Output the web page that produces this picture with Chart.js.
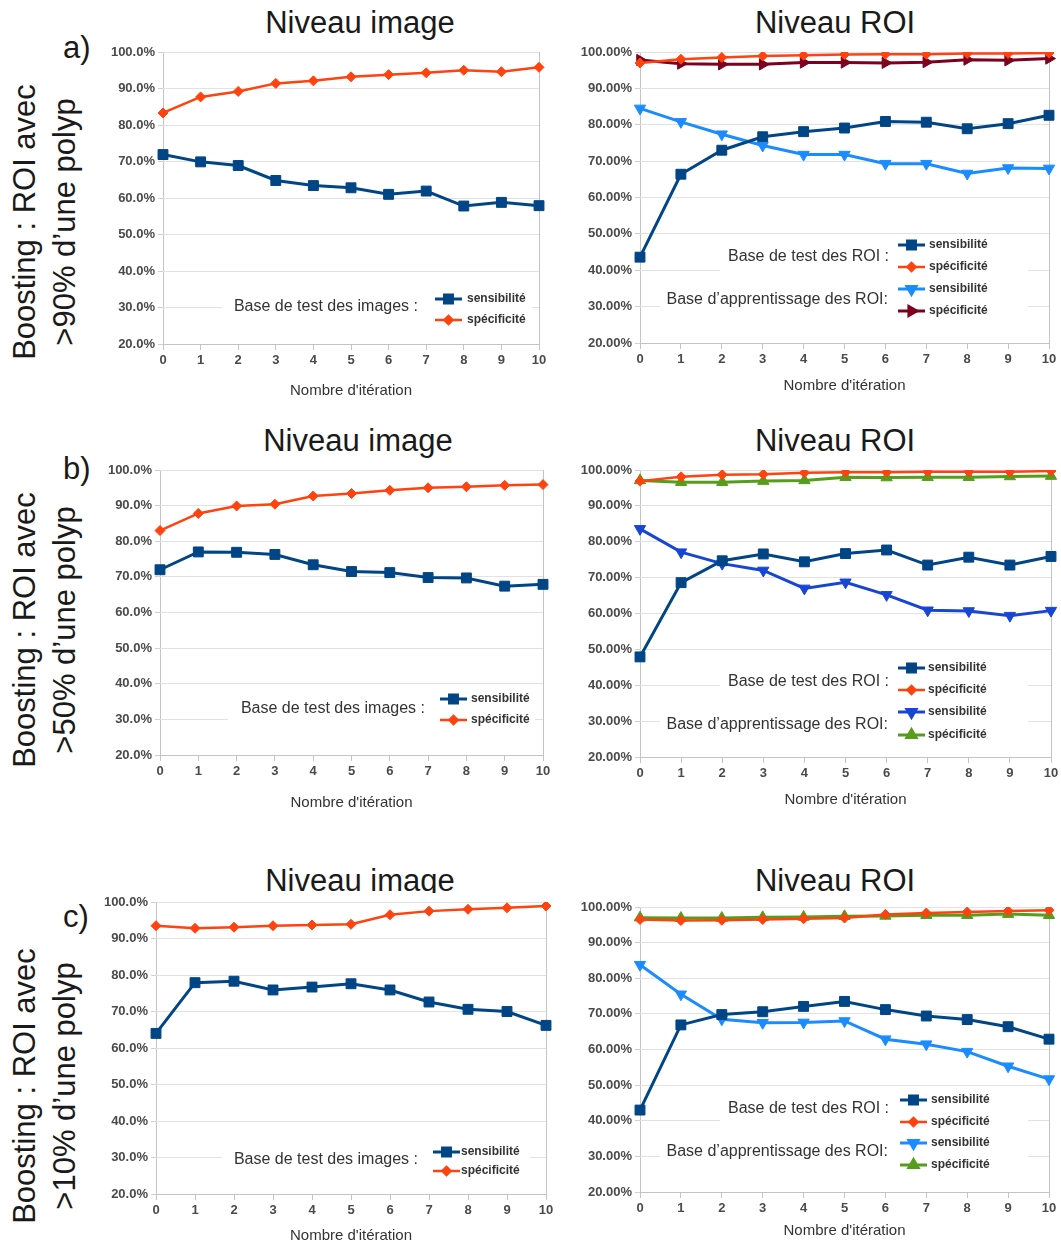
<!DOCTYPE html>
<html>
<head>
<meta charset="utf-8">
<script src="https://cdn.jsdelivr.net/npm/chart.js@4/dist/chart.umd.min.js"></script>
<style>
  body { margin: 0; background: #fff; width: 1061px; height: 1245px; position: relative; overflow: hidden;
         font-family: "Liberation Sans", Arial, sans-serif; color: #1a1a1a; }
  canvas { position: absolute; }
  .title { position: absolute; font-size: 31px; line-height: 31px; white-space: nowrap; transform: translateX(-50%); }
  .clip { position: absolute; overflow: hidden; left: 200px; width: 320px; }
  .tag { position: absolute; font-size: 31px; line-height: 31px; }
  .row { position: absolute; font-size: 31px; line-height: 40px; white-space: nowrap; text-align: center;
         transform: translate(-50%, -50%) rotate(-90deg); }
</style>
</head>
<body>

<div class="title" style="left:360px; top:7px">Niveau image</div>
<div class="title" style="left:835px; top:7px">Niveau ROI</div>
<div class="title" style="left:358px; top:425px">Niveau image</div>
<div class="title" style="left:835px; top:425px">Niveau ROI</div>
<div class="clip" style="top:860px; height:33px"><div class="title" style="left:160px; top:5px">Niveau image</div></div>
<div class="title" style="left:835px; top:865px">Niveau ROI</div>

<div class="tag" style="left:63px; top:32px">a)</div>
<div class="tag" style="left:63px; top:453px">b)</div>
<div class="tag" style="left:63px; top:901px">c)</div>

<div class="row" style="left:45px; top:222px">Boosting : ROI avec<br>&gt;90% d’une polyp</div>
<div class="row" style="left:45px; top:630px">Boosting : ROI avec<br>&gt;50% d’une polyp</div>
<div class="row" style="left:45px; top:1086px">Boosting : ROI avec<br>&gt;10% d’une polyp</div>

<canvas id="aL"></canvas>
<canvas id="aR"></canvas>
<canvas id="bL"></canvas>
<canvas id="bR"></canvas>
<canvas id="cL"></canvas>
<canvas id="cR"></canvas>

<script>
const iterations = ['0', '1', '2', '3', '4', '5', '6', '7', '8', '9', '10'];

// a) ROI avec >90% d'une polyp
const aImgSens = [71.9, 69.9, 68.9, 64.8, 63.4, 62.8, 61.0, 61.9, 57.8, 58.8, 57.9];
const aImgSpec = [83.3, 87.7, 89.2, 91.4, 92.1, 93.2, 93.8, 94.3, 95.0, 94.6, 95.8];
const aRoiTestSens = [43.6, 66.4, 73.0, 76.7, 78.1, 79.1, 80.9, 80.7, 78.9, 80.3, 82.6];
const aRoiTestSpec = [97.0, 98.0, 98.5, 98.9, 99.1, 99.3, 99.4, 99.4, 99.6, 99.6, 99.7];
const aRoiTrainSens = [84.5, 80.8, 77.4, 74.3, 71.8, 71.8, 69.3, 69.3, 66.6, 68.1, 68.0];
const aRoiTrainSpec = [97.8, 96.8, 96.6, 96.6, 97.1, 97.1, 97.0, 97.2, 97.9, 97.7, 98.2];

// b) ROI avec >50% d'une polyp
const bImgSens = [72.0, 77.0, 76.9, 76.3, 73.4, 71.5, 71.2, 69.8, 69.7, 67.4, 67.9];
const bImgSpec = [83.0, 87.8, 89.9, 90.4, 92.7, 93.4, 94.3, 95.0, 95.3, 95.7, 95.9];
const bRoiTestSens = [47.9, 68.6, 74.7, 76.6, 74.4, 76.7, 77.7, 73.5, 75.7, 73.5, 75.9];
const bRoiTestSpec = [96.9, 98.1, 98.7, 98.8, 99.2, 99.4, 99.4, 99.5, 99.5, 99.5, 99.7];
const bRoiTrainSens = [83.6, 77.1, 73.9, 72.0, 67.0, 68.7, 65.2, 60.9, 60.7, 59.4, 60.8];
const bRoiTrainSpec = [97.1, 96.6, 96.6, 96.9, 97.1, 98.0, 97.9, 98.0, 98.0, 98.2, 98.3];

// c) ROI avec >10% d'une polyp
const cImgSens = [64.0, 77.9, 78.3, 75.9, 76.7, 77.6, 75.9, 72.6, 70.6, 70.0, 66.2];
const cImgSpec = [93.5, 92.8, 93.1, 93.5, 93.7, 93.9, 96.5, 97.5, 98.0, 98.4, 98.9];
const cRoiTestSens = [43.0, 66.9, 69.8, 70.6, 72.1, 73.5, 71.2, 69.4, 68.4, 66.4, 62.9];
const cRoiTestSpec = [96.5, 96.2, 96.3, 96.5, 96.7, 96.9, 97.9, 98.3, 98.6, 98.9, 99.1];
const cRoiTrainSens = [83.8, 75.5, 68.5, 67.5, 67.6, 68.0, 62.9, 61.5, 59.4, 55.3, 51.7];
const cRoiTrainSpec = [97.0, 96.9, 96.9, 97.1, 97.2, 97.4, 97.5, 97.7, 97.7, 98.0, 97.7];

const yTicks = [20, 30, 40, 50, 60, 70, 80, 90, 100];

const DARK_BLUE = '#004586', RED = '#ff420e', LIGHT_BLUE = '#1a8cff', ROYAL_BLUE = '#1846d4',
      DARK_RED = '#7e0021', GREEN = '#579d1c';

function line(label, data, color, style, radius, rotation, width) {
  return {
    label: label, data: data, borderColor: color, backgroundColor: color,
    pointBackgroundColor: color, pointBorderColor: color, pointBorderWidth: 1,
    pointStyle: style, pointRadius: radius, pointRotation: rotation || 0,
    borderWidth: width, tension: 0
  };
}
const sens = (d, c) => line('sensibilité', d, c, 'rect', 7, 0, 3);
const spec = (d, c) => line('spécificité', d, c, 'rectRot', 5, 0, 2.5);
const sensTrain = (d, c) => line('sensibilité', d, c, 'triangle', 6.5, 180, 3);
const specTrain = (d, c, rot) => line('spécificité', d, c, 'triangle', 6.5, rot, 3);

// legend drawn inside the plot, with white boxes over the grid
const boxLegend = {
  id: 'boxLegend',
  beforeDatasetsDraw(chart, args, opts) {
    if (!opts || !opts.items) return;
    const ctx = chart.ctx;
    const ox = parseFloat(chart.canvas.style.left), oy = parseFloat(chart.canvas.style.top);
    ctx.save();
    ctx.fillStyle = '#fff';
    opts.boxes.forEach(b => ctx.fillRect(b[0] - ox, b[1] - oy, b[2] - b[0], b[3] - b[1]));
    ctx.fillStyle = '#333';
    ctx.font = '16px "Liberation Sans", Arial, sans-serif';
    ctx.textAlign = 'right';
    ctx.textBaseline = 'middle';
    opts.groups.forEach(g => ctx.fillText(g.text, g.x - ox, g.y - oy));
    ctx.textAlign = 'left';
    ctx.font = 'bold 12px "Liberation Sans", Arial, sans-serif';
    opts.items.forEach((it, i) => {
      const ds = chart.data.datasets[i];
      const y = it - oy, x0 = opts.lineX - ox;
      ctx.strokeStyle = ds.borderColor;
      ctx.lineWidth = ds.borderWidth;
      ctx.beginPath();
      ctx.moveTo(x0, y);
      ctx.lineTo(x0 + 27, y);
      ctx.stroke();
      ctx.fillStyle = ds.borderColor;
      Chart.helpers.drawPoint(ctx, {
        pointStyle: ds.pointStyle, radius: ds.pointRadius * 0.8,
        rotation: ds.pointRotation, borderWidth: 1
      }, x0 + 13.5, y);
      ctx.fillStyle = '#333';
      ctx.fillText(ds.label, opts.labelX - ox, y);
    });
    ctx.restore();
  }
};
Chart.register(boxLegend);

function buildChart(id, box, datasets, decimals, legend) {
  const left = box.L - box.yw, top = box.T - 12;
  const width = box.R + 14 - left, height = box.titleY + 9 - top;
  const cv = document.getElementById(id);
  cv.style.left = left + 'px';
  cv.style.top = top + 'px';
  cv.style.width = width + 'px';
  cv.style.height = height + 'px';
  cv.width = width;
  cv.height = height;
  const tickFont = { family: '"Liberation Sans", Arial, sans-serif', size: 13, weight: 'bold' };
  return new Chart(cv, {
    type: 'line',
    data: { labels: iterations, datasets: datasets },
    options: {
      responsive: false,
      animation: false,
      devicePixelRatio: 1,
      layout: { padding: { top: 12, right: 14, left: 0, bottom: 0 } },
      plugins: { legend: { display: false }, tooltip: { enabled: false }, boxLegend: legend },
      scales: {
        x: {
          grid: {
            color: c => (c.index === 0 || c.index === iterations.length - 1) ? '#c4c4c4' : 'rgba(0,0,0,0)',
            tickColor: '#c4c4c4', tickLength: 6, drawOnChartArea: true
          },
          border: { display: false },
          ticks: { color: '#4a4a4a', font: tickFont, padding: 3, maxRotation: 0, autoSkip: false },
          title: {
            display: true, text: "Nombre d'itération", color: '#333',
            font: { family: '"Liberation Sans", Arial, sans-serif', size: 15 },
            padding: { top: 0, bottom: 0 }
          },
          afterFit: s => { s.height = box.titleY + 9 - box.B; }
        },
        y: {
          min: 20, max: 100,
          afterBuildTicks: s => { s.ticks = yTicks.map(v => ({ value: v })); },
          grid: {
            color: c => c.tick && c.tick.value === 20 ? '#c4c4c4' : '#e2e2e2',
            tickColor: '#d0d0d0', tickLength: 5
          },
          border: { display: false },
          ticks: { color: '#4a4a4a', font: tickFont, padding: 3, callback: v => v.toFixed(decimals) + '%' },
          afterFit: s => { s.width = box.yw; }
        }
      }
    }
  });
}

buildChart('aL', { L: 163, R: 539, T: 52, B: 344, yw: 62, titleY: 391 },
  [sens(aImgSens, DARK_BLUE), spec(aImgSpec, RED)], 1,
  { boxes: [[222, 285, 532, 334]], groups: [{ text: 'Base de test des images :', x: 418, y: 307 }],
    items: [299, 320], lineX: 435, labelX: 467 });

buildChart('aR', { L: 640, R: 1049, T: 52, B: 343, yw: 70, titleY: 386 },
  [sens(aRoiTestSens, DARK_BLUE), spec(aRoiTestSpec, RED),
   sensTrain(aRoiTrainSens, LIGHT_BLUE), specTrain(aRoiTrainSpec, DARK_RED, 90)], 2,
  { boxes: [[720, 234, 1028, 279], [660, 279, 1028, 325]],
    groups: [{ text: 'Base de test des ROI :', x: 889, y: 257 }, { text: 'Base d’apprentissage des ROI:', x: 888, y: 300 }],
    items: [245, 267, 289, 311], lineX: 898, labelX: 929 });

buildChart('bL', { L: 160, R: 543, T: 470, B: 755, yw: 62, titleY: 803 },
  [sens(bImgSens, DARK_BLUE), spec(bImgSpec, RED)], 1,
  { boxes: [[228, 688, 535, 736]], groups: [{ text: 'Base de test des images :', x: 425, y: 709 }],
    items: [699, 720], lineX: 440, labelX: 471 });

buildChart('bR', { L: 640, R: 1051, T: 470, B: 757, yw: 70, titleY: 800 },
  [sens(bRoiTestSens, DARK_BLUE), spec(bRoiTestSpec, RED),
   sensTrain(bRoiTrainSens, ROYAL_BLUE), specTrain(bRoiTrainSpec, GREEN, 0)], 2,
  { boxes: [[720, 658, 1028, 702], [660, 702, 1028, 748]],
    groups: [{ text: 'Base de test des ROI :', x: 889, y: 682 }, { text: 'Base d’apprentissage des ROI:', x: 888, y: 725 }],
    items: [668, 690, 712, 735], lineX: 898, labelX: 928 });

buildChart('cL', { L: 156, R: 546, T: 902, B: 1194, yw: 62, titleY: 1236 },
  [sens(cImgSens, DARK_BLUE), spec(cImgSpec, RED)], 1,
  { boxes: [[222, 1140, 530, 1186]], groups: [{ text: 'Base de test des images :', x: 418, y: 1160 }],
    items: [1152, 1171], lineX: 433, labelX: 461 });

buildChart('cR', { L: 640, R: 1049, T: 907, B: 1192, yw: 70, titleY: 1231 },
  [sens(cRoiTestSens, DARK_BLUE), spec(cRoiTestSpec, RED),
   sensTrain(cRoiTrainSens, LIGHT_BLUE), specTrain(cRoiTrainSpec, GREEN, 0)], 2,
  { boxes: [[720, 1090, 1028, 1132], [660, 1132, 1028, 1178]],
    groups: [{ text: 'Base de test des ROI :', x: 889, y: 1109 }, { text: 'Base d’apprentissage des ROI:', x: 888, y: 1152 }],
    items: [1100, 1122, 1143, 1165], lineX: 900, labelX: 931 });
</script>
</body>
</html>
